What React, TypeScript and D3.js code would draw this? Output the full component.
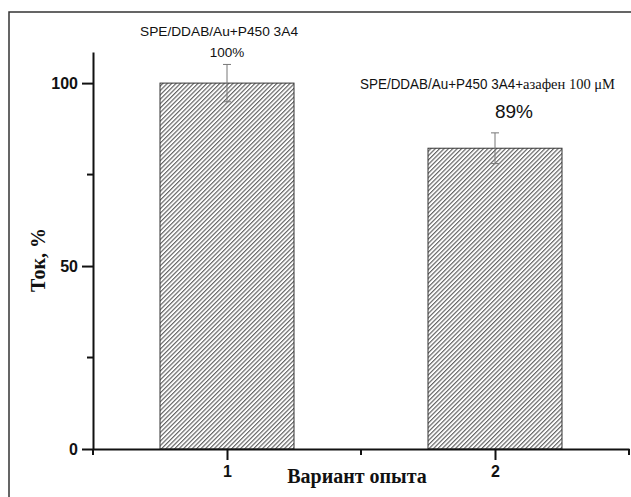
import React, { useRef, useEffect } from "react";
import * as d3 from "d3";

// variants of the experiment and measured current (% of control)
const variants = [1, 2];
const current = [100, 82.2];
const errors = [5.1, 4.2];
const valueLabels = ["100%", "89%"];
const yTicks = [0, 50, 100];
const yMinorTicks = [25, 75];
const xMinorTicks = [0.5, 1.5, 2.5];

const W = 631;
const H = 497;

function App() {
  const ref = useRef<SVGSVGElement | null>(null);

  useEffect(() => {
    const svg = d3.select(ref.current);
    svg.selectAll("*").remove();

    // hatch pattern for the bars
    const defs = svg.append("defs");
    const pat = defs
      .append("pattern")
      .attr("id", "hatch")
      .attr("patternUnits", "userSpaceOnUse")
      .attr("width", 3.1)
      .attr("height", 10)
      .attr("patternTransform", "rotate(45)");
    pat.append("rect").attr("width", 3.1).attr("height", 10).attr("fill", "#fff");
    pat
      .append("line")
      .attr("x1", 0.6)
      .attr("x2", 0.6)
      .attr("y1", 0)
      .attr("y2", 10)
      .attr("stroke", "#5a5a5a")
      .attr("stroke-width", 1.1);

    // frame (only top and left edges visible)
    svg
      .append("path")
      .attr("d", `M9,${H} L9,12 L${W},12`)
      .attr("fill", "none")
      .attr("stroke", "#333")
      .attr("stroke-width", 1.5);

    const x = d3.scaleLinear().domain([0.5, 2.5]).range([93, 629]);
    const y = d3.scaleLinear().domain([0, 108.5]).range([449, 52]);
    const barW = x(1.5) - x(1);

    // bars
    svg
      .selectAll(".bar")
      .data(variants)
      .enter()
      .append("rect")
      .attr("x", (d) => x(d) - barW / 2)
      .attr("y", (d, i) => y(current[i]))
      .attr("width", barW)
      .attr("height", (d, i) => y(0) - y(current[i]))
      .attr("fill", "url(#hatch)")
      .attr("stroke", "#333")
      .attr("stroke-width", 1);

    // error bars
    const eb = svg.selectAll(".err").data(variants).enter().append("g");
    eb.append("line")
      .attr("x1", (d) => x(d))
      .attr("x2", (d) => x(d))
      .attr("y1", (d, i) => y(current[i] + errors[i]))
      .attr("y2", (d, i) => y(current[i] - errors[i]))
      .attr("stroke", "#777")
      .attr("stroke-width", 1);
    eb.append("line")
      .attr("x1", (d) => x(d) - 4)
      .attr("x2", (d) => x(d) + 4)
      .attr("y1", (d, i) => y(current[i] + errors[i]))
      .attr("y2", (d, i) => y(current[i] + errors[i]))
      .attr("stroke", "#777")
      .attr("stroke-width", 1);
    eb.append("line")
      .attr("x1", (d) => x(d) - 4)
      .attr("x2", (d) => x(d) + 4)
      .attr("y1", (d, i) => y(current[i] - errors[i]))
      .attr("y2", (d, i) => y(current[i] - errors[i]))
      .attr("stroke", "#777")
      .attr("stroke-width", 1);

    const sans = "'Liberation Sans', Arial, sans-serif";
    const serif = "'Liberation Serif', 'Times New Roman', serif";

    // y axis
    const yAxis = svg
      .append("g")
      .attr("transform", "translate(93,0)")
      .call(d3.axisLeft(y).tickValues(yTicks).tickSize(11).tickSizeOuter(0).tickPadding(4));
    yAxis.select(".domain").attr("stroke", "#111").attr("stroke-width", 2);
    yAxis.selectAll(".tick line").attr("stroke", "#111").attr("stroke-width", 2);
    yAxis
      .selectAll(".tick text")
      .attr("font-family", sans)
      .attr("font-weight", "bold")
      .attr("font-size", 16)
      .attr("fill", "#111");
    yAxis
      .selectAll(".minor")
      .data(yMinorTicks)
      .enter()
      .append("line")
      .attr("x1", -6)
      .attr("x2", 0)
      .attr("y1", (d) => y(d))
      .attr("y2", (d) => y(d))
      .attr("stroke", "#111")
      .attr("stroke-width", 2);

    // x axis
    const xAxis = svg
      .append("g")
      .attr("transform", "translate(0,449)")
      .call(d3.axisBottom(x).tickValues(variants).tickFormat(d3.format("d")).tickSize(11).tickSizeOuter(0).tickPadding(6));
    xAxis.select(".domain").attr("stroke", "#111").attr("stroke-width", 2);
    xAxis.selectAll(".tick line").attr("stroke", "#111").attr("stroke-width", 2);
    xAxis
      .selectAll(".tick text")
      .attr("font-family", sans)
      .attr("font-weight", "bold")
      .attr("font-size", 16)
      .attr("fill", "#111");
    xAxis
      .selectAll(".minor")
      .data(xMinorTicks)
      .enter()
      .append("line")
      .attr("x1", (d) => x(d))
      .attr("x2", (d) => x(d))
      .attr("y1", 0)
      .attr("y2", 6)
      .attr("stroke", "#111")
      .attr("stroke-width", 2);

    // axis titles
    svg
      .append("text")
      .attr("transform", "translate(45,260) rotate(-90)")
      .attr("text-anchor", "middle")
      .attr("font-family", serif)
      .attr("font-weight", "bold")
      .attr("font-size", 20)
      .attr("fill", "#111")
      .text("Ток, %");
    svg
      .append("text")
      .attr("x", 357)
      .attr("y", 483)
      .attr("text-anchor", "middle")
      .attr("font-family", serif)
      .attr("font-weight", "bold")
      .attr("font-size", 20)
      .attr("fill", "#111")
      .text("Вариант опыта");

    // annotations
    svg
      .append("text")
      .attr("x", 140)
      .attr("y", 36)
      .attr("font-family", sans)
      .attr("font-size", 12)
      .attr("textLength", 158)
      .attr("lengthAdjust", "spacingAndGlyphs")
      .attr("fill", "#111")
      .text("SPE/DDAB/Au+P450 3A4");
    svg
      .append("text")
      .attr("x", x(1))
      .attr("y", 57)
      .attr("text-anchor", "middle")
      .attr("font-family", sans)
      .attr("font-size", 13.5)
      .attr("fill", "#111")
      .text(valueLabels[0]);

    const t2 = svg
      .append("text")
      .attr("y", 89)
      .attr("fill", "#111");
    t2.append("tspan")
      .attr("x", 360)
      .attr("font-family", sans)
      .attr("font-size", 14)
      .attr("textLength", 163)
      .attr("lengthAdjust", "spacingAndGlyphs")
      .text("SPE/DDAB/Au+P450 3A4+");
    t2.append("tspan")
      .attr("x", 523)
      .attr("font-family", serif)
      .attr("font-size", 14)
      .attr("textLength", 92)
      .attr("lengthAdjust", "spacingAndGlyphs")
      .text("азафен 100 μM");
    svg
      .append("text")
      .attr("x", 514)
      .attr("y", 118)
      .attr("text-anchor", "middle")
      .attr("font-family", sans)
      .attr("font-size", 19)
      .attr("fill", "#111")
      .text(valueLabels[1]);
  }, []);

  return (
    <svg
      ref={ref}
      width={W}
      height={H}
      style={{ position: "absolute", left: 0, top: 0, background: "#fff" }}
    ></svg>
  );
}

export default App;
